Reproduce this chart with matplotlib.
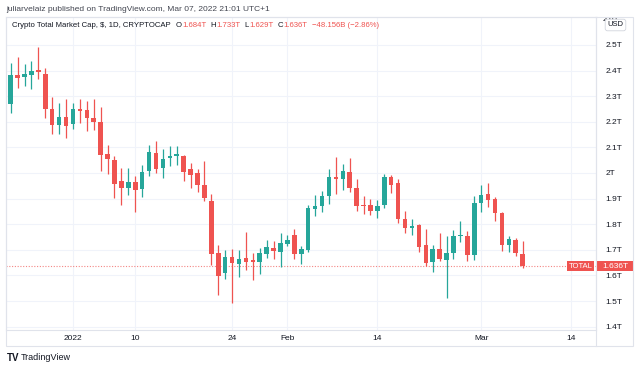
import matplotlib
matplotlib.use('Agg')
import matplotlib.pyplot as plt
import matplotlib.dates as mdates
from matplotlib.patches import Rectangle
from matplotlib.lines import Line2D
from matplotlib.transforms import Bbox, TransformedBbox
import numpy as np
import pandas as pd

# daily candles, Dec 23 2021 .. Mar 07 2022 (values in trillions USD)
dates = pd.date_range('2021-12-23', '2022-03-07', freq='D')
opens = [2.268, 2.382, 2.374, 2.384, 2.401, 2.388, 2.249, 2.189, 2.220,
	2.191, 2.249, 2.246, 2.216, 2.199, 2.075, 2.050, 1.968, 1.941, 1.966, 1.936,
	2.007, 2.079, 2.019, 2.057, 2.066, 2.068, 2.014, 1.998, 1.955, 1.890, 1.689,
	1.608, 1.673, 1.645, 1.668, 1.659, 1.653, 1.684, 1.708, 1.692,
	1.722, 1.758, 1.683, 1.700, 1.861, 1.871, 1.910, 1.985, 1.976, 2.005, 1.943,
	1.874, 1.874, 1.851, 1.874, 1.985, 1.959, 1.821, 1.785, 1.795, 1.719, 1.654,
	1.702, 1.661, 1.686, 1.753, 1.755, 1.680,
	1.882, 1.917, 1.898, 1.844, 1.719, 1.740, 1.684]
highs = [2.431, 2.451, 2.427, 2.438, 2.490, 2.408, 2.298, 2.275, 2.290,
	2.275, 2.288, 2.281, 2.288, 2.259, 2.108, 2.065, 2.018, 2.018, 1.990, 2.032,
	2.111, 2.124, 2.092, 2.105, 2.105, 2.072, 2.040, 2.016, 2.045, 1.917, 1.718,
	1.698, 1.705, 1.700, 1.771, 1.689, 1.709, 1.737, 1.733, 1.767,
	1.757, 1.780, 1.715, 1.875, 1.914, 1.929, 2.015, 2.063, 2.037, 2.057, 1.975,
	1.912, 1.898, 1.894, 1.996, 1.994, 1.976, 1.852, 1.821, 1.800, 1.781, 1.719,
	1.766, 1.753, 1.777, 1.811, 1.775, 1.911,
	1.954, 1.960, 1.905, 1.849, 1.755, 1.745, 1.733]
lows = [2.236, 2.331, 2.340, 2.329, 2.366, 2.214, 2.152, 2.151, 2.137,
	2.173, 2.197, 2.164, 2.167, 2.009, 1.995, 1.903, 1.876, 1.916, 1.847, 1.908,
	1.988, 1.998, 1.980, 2.027, 2.031, 1.970, 1.942, 1.927, 1.890, 1.640, 1.524,
	1.585, 1.491, 1.595, 1.621, 1.582, 1.604, 1.667, 1.666, 1.634,
	1.715, 1.666, 1.643, 1.690, 1.833, 1.847, 1.878, 1.917, 1.933, 1.927, 1.852,
	1.839, 1.835, 1.826, 1.865, 1.920, 1.803, 1.764, 1.759, 1.693, 1.638, 1.615,
	1.658, 1.513, 1.664, 1.729, 1.655, 1.661,
	1.849, 1.866, 1.811, 1.695, 1.690, 1.674, 1.629]
closes = [2.383, 2.371, 2.385, 2.397, 2.396, 2.249, 2.189, 2.220, 2.184,
	2.251, 2.243, 2.216, 2.199, 2.070, 2.056, 1.958, 1.940, 1.966, 1.934, 2.003,
	2.082, 2.016, 2.055, 2.066, 2.074, 2.005, 1.994, 1.954, 1.901, 1.683, 1.598,
	1.673, 1.649, 1.666, 1.654, 1.653, 1.686, 1.711, 1.694, 1.728,
	1.739, 1.685, 1.703, 1.863, 1.872, 1.912, 1.983, 1.976, 2.009, 1.943, 1.872,
	1.871, 1.851, 1.873, 1.983, 1.955, 1.820, 1.786, 1.792, 1.711, 1.648, 1.702,
	1.664, 1.686, 1.753, 1.758, 1.681, 1.882,
	1.915, 1.896, 1.842, 1.719, 1.741, 1.686, 1.636]

price_ticks = [1.4, 1.5, 1.6, 1.7, 1.8, 1.9, 2.0, 2.1, 2.2, 2.3, 2.4, 2.5]
date_ticks = ['2022-01-01', '2022-01-10', '2022-01-24', '2022-02-01',
	'2022-02-14', '2022-03-01', '2022-03-14']
date_labels = ['2022', '10', '24', 'Feb', '14', 'Mar', '14']
change_text = '\u221248.156B (\u22122.86%)'

GREEN = '#26a69a'
RED = '#ef5350'
GRID = '#f0f3fa'
BORDER = '#e0e3eb'
TXT = '#131722'

plt.rcParams['font.family'] = ['Liberation Sans', 'DejaVu Sans']

W, H = 640, 370
def fx(p):
	return p / W
def fy(p):
	return 1 - p / H

fig = plt.figure(figsize=(6.4, 3.7), dpi=100)
ax = fig.add_axes([fx(6), fy(330), fx(596) - fx(6), fy(17) - fy(330)])

o = np.array(opens)
h = np.array(highs)
l = np.array(lows)
c = np.array(closes)
x = mdates.date2num(dates)
cols = np.where(c >= o, GREEN, RED)

ax.vlines(x, l, h, colors=cols, lw=0.9, zorder=3)
ax.bar(x, np.maximum(np.abs(c - o), 0.004), width=0.66, bottom=np.minimum(o, c),
	color=cols, lw=0, zorder=4)

jan1 = mdates.date2num(pd.Timestamp('2022-01-01'))
ax.set_xlim(jan1 - 9.68, jan1 + 75.6)
ax.set_ylim(1.387, 2.609)

ax.set_yticks(price_ticks)
ax.set_yticklabels(['2T' if abs(v - 2) < 1e-9 else '%.1fT' % v for v in price_ticks])
ax.yaxis.tick_right()
ax.tick_params(axis='y', length=0, pad=7, labelsize=6, labelcolor=TXT)
ax.set_xticks(mdates.date2num(pd.to_datetime(date_ticks)))
ax.set_xticklabels(date_labels)
ax.tick_params(axis='x', length=0, pad=3.5, labelsize=6, labelcolor=TXT)
ax.grid(True, color=GRID, lw=0.8)
ax.set_axisbelow(True)
for s in ax.spines.values():
	s.set_color(BORDER)
	s.set_linewidth(0.8)

# half-hidden top label
t = ax.text((603 - 6) / 590, 2.6, '2.6T', transform=ax.get_yaxis_transform(),
	ha='left', va='center', fontsize=6, color=TXT)
t.set_clip_box(TransformedBbox(Bbox([[0, 0], [1, fy(17)]]), fig.transFigure))
t.set_clip_on(True)

# last price line + labels
last = closes[-1]
ax.axhline(last, color=RED, lw=0.8, ls=(0, (1, 1.5)), alpha=0.7, zorder=2)
yt = ax.get_yaxis_transform()
hh = 10 / 256
ax.add_patch(Rectangle(((567 - 6) / 590, last - hh / 2), 27 / 590, hh, transform=yt,
	fc=RED, ec='none', zorder=6, clip_on=False))
ax.text((580.5 - 6) / 590, last, 'TOTAL', transform=yt, ha='center', va='center',
	fontsize=5.5, color='white', zorder=7)
ax.add_patch(Rectangle(((597 - 6) / 590, last - hh / 2), 36 / 590, hh, transform=yt,
	fc=RED, ec='none', zorder=6, clip_on=False))
ax.text((615 - 6) / 590, last, '%.3fT' % last, transform=yt, ha='center', va='center',
	fontsize=6, color='white', zorder=7, clip_on=False)

# outer frame
fig.add_artist(Rectangle((fx(6), fy(346)), fx(633) - fx(6), fy(17) - fy(346),
	transform=fig.transFigure, fill=False, ec=BORDER, lw=0.8))
fig.add_artist(Line2D([fx(596), fx(596)], [fy(346), fy(17)], color=BORDER, lw=0.8))

fig.text(fx(615.5), fy(25), 'USD', ha='center', va='center', fontsize=5.5, color=TXT,
	bbox=dict(boxstyle='round,pad=0.3', fc='white', ec='#d1d4dc', lw=0.6))

# header
fig.text(fx(6), fy(9.5), 'juliarvelaiz published on TradingView.com, Mar 07, 2022 21:01 UTC+1',
	fontsize=6, color='#434651', va='center')

# legend line: pieces chained left to right by measured width
rend = fig.canvas.get_renderer()
hy = fy(25.5)
pieces = [('Crypto Total Market Cap, $, 1D, CRYPTOCAP', TXT, 5)]
for lab, val in [('O', opens[-1]), ('H', highs[-1]), ('L', lows[-1]), ('C', closes[-1])]:
	pieces.append((lab, TXT, 0.5))
	pieces.append(('%.3fT' % val, RED, 4))
pieces.append((change_text, RED, 0))
cx = 12
for txt, col, gap in pieces:
	tt = fig.text(fx(cx), hy, txt, fontsize=5.6, color=col, va='center')
	cx += tt.get_window_extent(rend).width + gap

# footer logo
fig.text(fx(7), fy(358), 'TV', fontsize=7, fontweight='bold', color=TXT, va='center')
fig.text(fx(21), fy(358), 'TradingView', fontsize=6.5, color=TXT, va='center')

fig.savefig('out.png', dpi=100, facecolor='white')
